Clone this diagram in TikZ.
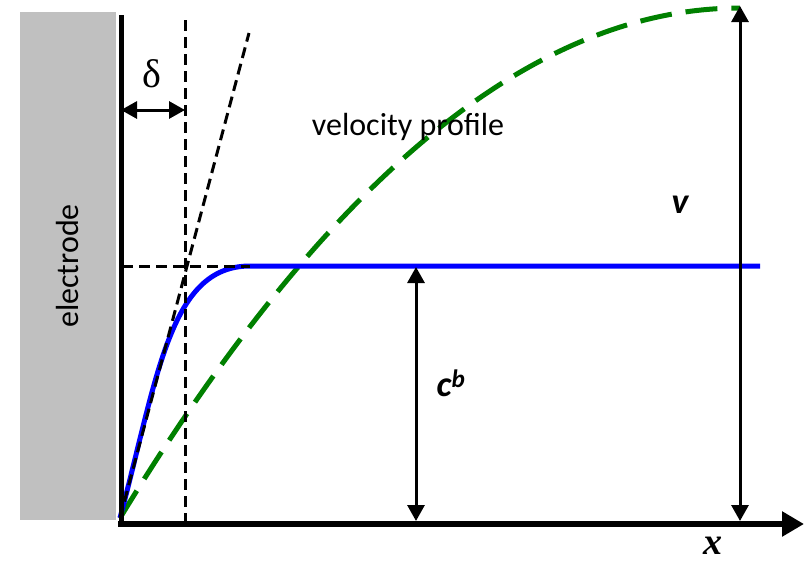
\documentclass[tikz,border=0pt]{standalone}
\usepackage{fontspec}
\setmainfont{Carlito}
\newfontfamily\serifx{Liberation Serif}
\usetikzlibrary{arrows.meta}
\definecolor{elgray}{RGB}{192,192,192}
\definecolor{vgreen}{RGB}{0,128,0}
\tikzset{
  guide/.style={black,line width=3pt,dash pattern=on 11pt off 6pt},
  dimarrow/.style={line width=3pt,{Triangle[length=16pt,width=17pt]}-{Triangle[length=16pt,width=17pt]}},
  lbl/.style={font=\fontsize{32}{36}\selectfont,inner sep=0pt},
  symlbl/.style={font=\fontsize{36}{40}\selectfont\bfseries\itshape,inner sep=0pt}
}
\begin{document}
\begin{tikzpicture}[x=1pt,y=-1pt]
\useasboundingbox (0,0) rectangle (809,563);
% electrode
\fill[elgray] (20,12) rectangle (116,520);
\node[lbl,rotate=90] (el) at (68,266) {electrode};
% coordinates
\coordinate (o) at (120,518);
\coordinate (wtop) at (121,15);
\coordinate (wbot) at (121,524);
\coordinate (axs) at (118,524);
\coordinate (axe) at (804,524);
\coordinate (dtop) at (185,20);
\coordinate (dbot) at (185,522);
\coordinate (hl) at (122,266);
\coordinate (hr) at (250,266);
\coordinate (tanend) at (249,33);
% velocity profile
\draw[vgreen,line width=5pt,dash pattern=on 32pt off 14pt] (o) .. controls (326.7,178) and (533.3,8) .. (740,8);
% concentration profile
\coordinate (flat) at (250,266);
\coordinate (bend2) at (760,266);
\draw[blue,line width=5pt,line join=round] (o) .. controls (158,375) and (170,266) .. (flat) -- (bend2);
% guides
\draw[guide] (dtop) -- (dbot);
\draw[guide] (hl) -- (hr);
\draw[guide] (o) -- (tanend);
% wall and axis
\draw[line width=5pt] (wtop) -- (wbot);
\draw[line width=6pt,-{Triangle[length=22pt,width=24pt]}] (axs) -- (axe);
\node[font=\serifx\fontsize{38}{40}\selectfont\bfseries\itshape,inner sep=0pt] (xl) at (713,546) {x};
% delta
\coordinate (da) at (121,110);
\coordinate (db) at (185,110);
\draw[dimarrow] (da) -- (db);
\node[font=\serifx\fontsize{40}{44}\selectfont,inner sep=0pt] (dl) at (152,74) {δ};
% labels
\node[lbl] (vp) at (408,127) {velocity profile};
% v arrow
\coordinate (vt) at (740,6);
\coordinate (vb) at (740,521);
\draw[dimarrow] (vt) -- (vb);
\node[symlbl] (vl) at (680,205) {v};
% cb arrow
\coordinate (ct) at (416,267);
\coordinate (cbt) at (416,521);
\draw[dimarrow] (ct) -- (cbt);
\node[symlbl] (cl) at (451,383) {c\textsuperscript{b}};
\end{tikzpicture}
\end{document}
